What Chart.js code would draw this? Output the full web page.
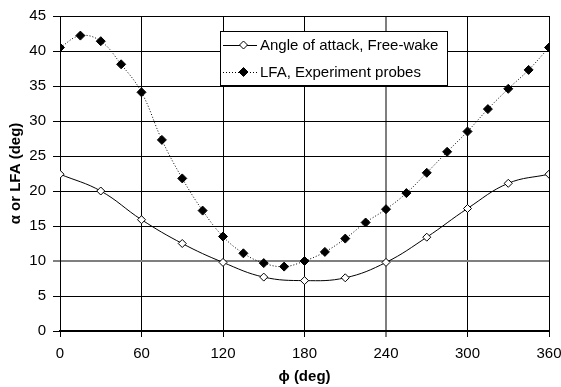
<!DOCTYPE html>
<html>
<head>
<meta charset="utf-8">
<script src="https://cdn.jsdelivr.net/npm/chart.js@4"></script>
<style>
  html, body { margin: 0; padding: 0; background: #fff; }
  #wrap { width: 561px; height: 387px; }
</style>
</head>
<body>
<div id="wrap"><canvas id="grafico" width="561" height="387"></canvas></div>
<script>
// datos
const phiAoA = [0, 30, 60, 90, 120, 150, 180, 210, 240, 270, 300, 330, 360];
const aoaFreeWake = [22.4, 20.0, 15.9, 12.5, 9.8, 7.7, 7.2, 7.6, 9.8, 13.4, 17.5, 21.1, 22.4];

const phiLFA = [0, 15, 30, 45, 60, 75, 90, 105, 120, 135, 150, 165, 180, 195, 210, 225, 240, 255, 270, 285, 300, 315, 330, 345, 360];
const lfaProbes = [40.5, 42.2, 41.4, 38.1, 34.1, 27.3, 21.8, 17.2, 13.5, 11.1, 9.7, 9.2, 10.0, 11.3, 13.2, 15.5, 17.4, 19.7, 22.6, 25.6, 28.5, 31.7, 34.6, 37.3, 40.5];

const etiquetas = ['Angle of attack, Free-wake', 'LFA, Experiment probes'];
const tituloX = 'ϕ (deg)';
const tituloY = 'α or LFA (deg)';

const fuente = "'Liberation Sans', Arial, sans-serif";

// Leyenda dentro del area del grafico (estilo Excel)
const leyendaPlugin = {
    id: 'leyendaExcel',
    afterDraw(chart) {
        const ctx = chart.ctx;
        const x0 = 220, y0 = 31, w = 227, h = 54;
        ctx.save();
        ctx.fillStyle = '#fff';
        ctx.fillRect(x0, y0, w, h);
        ctx.strokeStyle = '#000';
        ctx.lineWidth = 1;
        ctx.strokeRect(x0 + 0.5, y0 + 0.5, w, h);

        const filas = [y0 + 14, y0 + 41];
        chart.data.datasets.forEach((ds, i) => {
            const yy = filas[i];
            ctx.beginPath();
            ctx.strokeStyle = '#000';
            ctx.lineWidth = 1;
            ctx.setLineDash(ds.borderDash || []);
            ctx.moveTo(x0 + 3, yy + 0.5);
            ctx.lineTo(x0 + 37, yy + 0.5);
            ctx.stroke();
            ctx.setLineDash([]);
            // marcador rombo
            const cx = x0 + 23.5, r = ds.pointRadius;
            ctx.beginPath();
            ctx.moveTo(cx, yy - r);
            ctx.lineTo(cx + r, yy);
            ctx.lineTo(cx, yy + r);
            ctx.lineTo(cx - r, yy);
            ctx.closePath();
            ctx.fillStyle = ds.pointBackgroundColor;
            ctx.fill();
            ctx.stroke();

            ctx.fillStyle = '#000';
            ctx.font = '15px ' + fuente;
            ctx.textBaseline = 'middle';
            ctx.textAlign = 'left';
            ctx.fillText(ds.label, x0 + 40, yy + 1);
        });
        ctx.restore();
    }
};

// lineas de rejilla que en el original salen grises
const colorRejillaX = (c) => (c.tick && c.tick.value === 240 ? '#7f7f7f' : '#000');
const colorRejillaY = (c) => (c.tick && c.tick.value === 10 ? '#7f7f7f' : '#000');
const anchoRejillaX = (c) => (c.tick && c.tick.value === 240 ? 2 : 1);
const anchoRejillaY = (c) => (c.tick && c.tick.value === 10 ? 2 : 1);

const ctx = document.getElementById('grafico').getContext('2d');
new Chart(ctx, {
    type: 'line',
    data: {
        datasets: [
            {
                label: etiquetas[0],
                data: phiAoA.map((x, i) => ({ x, y: aoaFreeWake[i] })),
                borderColor: '#000',
                borderWidth: 1,
                tension: 0.4,
                pointStyle: 'rectRot',
                pointRadius: 4,
                pointBackgroundColor: '#fff',
                pointBorderColor: '#000',
                pointBorderWidth: 1,
                fill: false
            },
            {
                label: etiquetas[1],
                data: phiLFA.map((x, i) => ({ x, y: lfaProbes[i] })),
                borderColor: '#000',
                borderWidth: 1,
                borderDash: [1, 2],
                tension: 0.4,
                pointStyle: 'rectRot',
                pointRadius: 4.5,
                pointBackgroundColor: '#000',
                pointBorderColor: '#000',
                pointBorderWidth: 1,
                fill: false
            }
        ]
    },
    options: {
        responsive: false,
        animation: false,
        layout: { padding: { top: 12, right: 0, left: 0, bottom: 0 } },
        plugins: {
            legend: { display: false },
            tooltip: { enabled: false }
        },
        scales: {
            x: {
                type: 'linear',
                min: 0,
                max: 360,
                ticks: { stepSize: 60, color: '#000', font: { family: fuente, size: 15 }, padding: 8, maxRotation: 0 },
                grid: { color: colorRejillaX, lineWidth: anchoRejillaX, tickLength: 6, tickColor: '#000', tickWidth: 1 },
                border: { color: '#000', width: 2 },
                title: { display: true, text: tituloX, color: '#000', font: { family: fuente, size: 15, weight: 'bold' }, padding: { top: 0, bottom: 1 } },
                afterFit(scale) { scale.height = 56; scale.paddingRight = 12; }
            },
            y: {
                min: 0,
                max: 45,
                ticks: { stepSize: 5, color: '#000', font: { family: fuente, size: 15 }, padding: 7 },
                grid: { color: colorRejillaY, lineWidth: anchoRejillaY, tickLength: 7, tickColor: '#000', tickWidth: 1 },
                border: { color: '#000', width: 1 },
                title: { display: true, text: tituloY, color: '#000', font: { family: fuente, size: 15, weight: 'bold' }, padding: { top: 7, bottom: 0 } },
                afterFit(scale) { scale.width = 60; }
            }
        }
    },
    plugins: [leyendaPlugin]
});
</script>
</body>
</html>
